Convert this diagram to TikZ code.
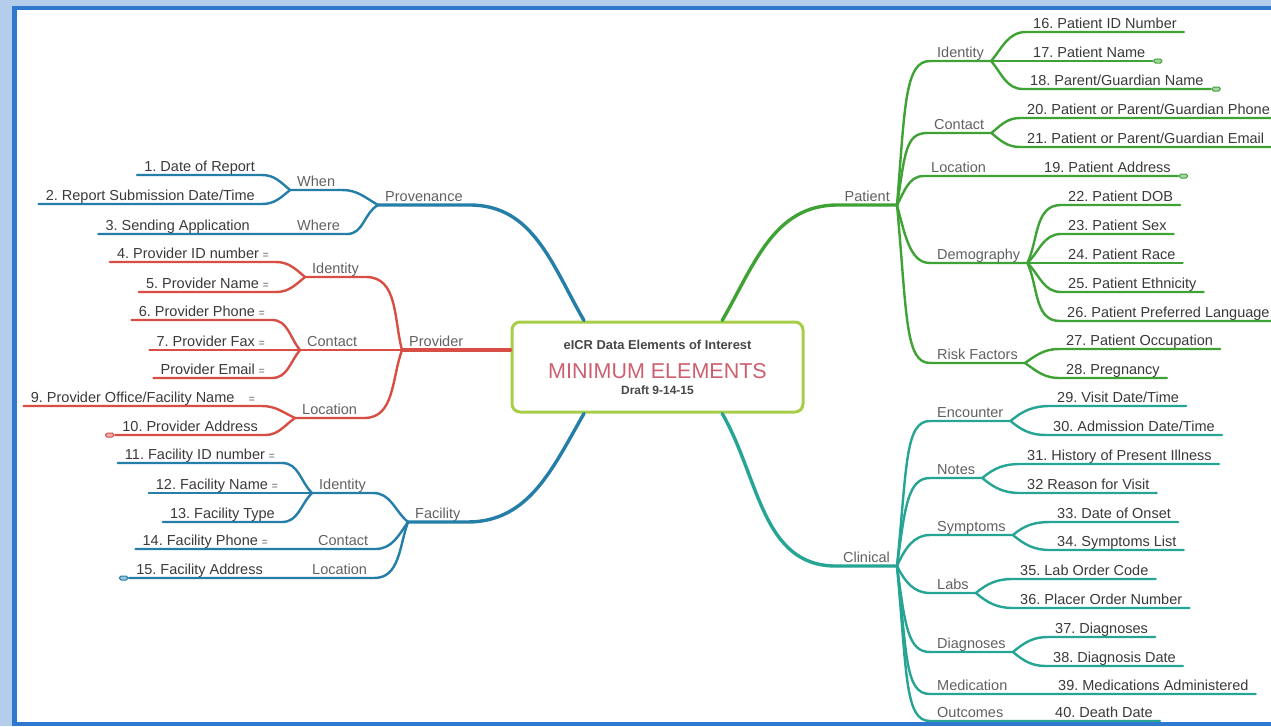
\documentclass[tikz,border=0pt]{standalone}
\usepackage{fontspec}
\setmainfont{Liberation Sans}
\usetikzlibrary{positioning, calc}
\definecolor{mapblue}{RGB}{36,126,168}
\definecolor{mapred}{RGB}{216,78,68}
\definecolor{mapgreen}{RGB}{62,162,52}
\definecolor{mapteal}{RGB}{38,164,148}
\definecolor{boxlime}{RGB}{168,206,72}
\definecolor{headpink}{RGB}{204,96,112}
\definecolor{inkgray}{RGB}{58,58,58}
\definecolor{framedark}{RGB}{47,120,208}
\definecolor{framelight}{RGB}{180,205,234}
\newcommand{\notesign}{{\color{black!45}\fontsize{10}{10}\selectfont\bfseries =}}
\frenchspacing

\begin{document}
\begin{tikzpicture}[x=1pt, y=-1pt,
    item/.style={inner xsep=7pt, inner ysep=0.5pt, text height=10.5pt,
                 text depth=3pt, font=\fontsize{14.5}{17}\selectfont,
                 text=inkgray},
    cat/.style={item, text=black!62},
    wire/.style={line width=2.4pt, line cap=round},
    trunk/.style={line width=3.4pt, line cap=round},
    core/.style={draw=boxlime, line width=3pt, rounded corners=8pt,
                 fill=white, minimum width=291pt, minimum height=90pt,
                 align=center, font=\fontsize{12.9}{15}\selectfont},
    pill/.style={draw=#1, fill=#1!45, rounded corners=1.5pt,
                 minimum width=8pt, minimum height=4pt, inner sep=0pt,
                 line width=1pt},
]
\clip (0,0) rectangle (1271,726);
\fill[white] (0,0) rectangle (1271,726);

\node[core] (core) at (657.5,367)
    {{\bfseries\color{black!72}eICR Data Elements of Interest}\\[13pt]
     {\fontsize{21.5}{21}\selectfont\color{headpink}MINIMUM ELEMENTS}\\[1pt]
     {\fontsize{12}{12}\selectfont\bfseries\color{black!72}Draft 9-14-15}};

% Provenance
\node[cat, anchor=south west] (prov) at (378,205) {Provenance};
\node[cat, anchor=south west] (when) at (290,190) {When};
\node[cat, anchor=south west] (where) at (290,234) {Where};
\node[item, anchor=south east] (p1) at (262,175) {1. Date of Report};
\node[item, anchor=south east] (p2) at (262,204) {2. Report Submission Date/Time};
\node[item, anchor=south east] (p3) at (257,234) {3. Sending Application};

\draw[trunk, mapblue] ($(core.north west)!0.25!(core.north east)$)
    to[out=120, in=0] (prov.south east) -- (prov.south west);
\draw[wire, mapblue] (prov.south west) to[out=150, in=0] (when.south east) -- (when.south west);
\draw[wire, mapblue] (prov.south west) to[out=210, in=0] (where.south east) -- (p3.south west);
\draw[wire, mapblue] (when.south west) to[out=140, in=0] (p1.south east) -- (p1.south west);
\draw[wire, mapblue] (when.south west) to[out=220, in=0] (p2.south east) -- (p2.south west);

% Provider
\node[cat, anchor=south west] (prv) at (402,350) {Provider};
\node[cat, anchor=south west] (prvid) at (305,277) {Identity};
\node[cat, anchor=south west] (prvct) at (300,350) {Contact};
\node[cat, anchor=south west] (prvlc) at (295,418) {Location};
\node[item, anchor=south east] (p4) at (276,262) {4. Provider ID number \notesign};
\node[item, anchor=south east] (p5) at (276,292) {5. Provider Name \notesign};
\node[item, anchor=south east] (p6) at (272,320) {6. Provider Phone \notesign};
\node[item, anchor=south east] (p7) at (272,350) {7. Provider Fax \notesign};
\node[item, anchor=south east] (p8) at (272,378) {Provider Email \notesign};
\node[item, anchor=south east] (p9) at (262,406) {9. Provider Office/Facility Name\quad\notesign};
\node[item, anchor=south east] (p10) at (265,435) {10. Provider Address};
\node[pill=mapred, left=1pt of p10.south west] (lk10) {};

\draw[trunk, mapred] (core.west |- prv.south) -- (prv.south west);
\draw[wire, mapred] (prv.south west) to[out=105, in=0] (prvid.south east) -- (prvid.south west);
\draw[wire, mapred] (prv.south west) -- (p7.south west);
\draw[wire, mapred] (prv.south west) to[out=250, in=0] (prvlc.south east) -- (prvlc.south west);
\draw[wire, mapred] (prvid.south west) to[out=140, in=0] (p4.south east) -- (p4.south west);
\draw[wire, mapred] (prvid.south west) to[out=220, in=0] (p5.south east) -- (p5.south west);
\draw[wire, mapred] (prvct.south west) to[out=130, in=0] (p6.south east) -- (p6.south west);
\draw[wire, mapred] (prvct.south west) to[out=230, in=0] (p8.south east) -- (p8.south west);
\draw[wire, mapred] (prvlc.south west) to[out=155, in=0] (p9.south east) -- (p9.south west);
\draw[wire, mapred] (prvlc.south west) to[out=215, in=0] (p10.south east) -- (p10.south west);

% Facility
\node[cat, anchor=south west] (fac) at (408,522) {Facility};
\node[cat, anchor=south west] (facid) at (312,493) {Identity};
\node[cat, anchor=south west] (facct) at (311,549) {Contact};
\node[cat, anchor=south west] (faclc) at (305,578) {Location};
\node[item, anchor=south east] (p11) at (282,463) {11. Facility ID number \notesign};
\node[item, anchor=south east] (p12) at (285,493) {12. Facility Name \notesign};
\node[item, anchor=south east] (p13) at (282,522) {13. Facility Type};
\node[item, anchor=south east] (p14) at (275,549) {14. Facility Phone \notesign};
\node[item, anchor=south east] (p15) at (270,578) {15. Facility Address};
\node[pill=mapblue, left=1pt of p15.south west] (lk15) {};

\draw[trunk, mapblue] ($(core.south west)!0.25!(core.south east)$)
    to[out=240, in=0] (fac.south east) -- (fac.south west);
\draw[wire, mapblue] (fac.south west) to[out=140, in=0] (facid.south east) -- (facid.south west);
\draw[wire, mapblue] (fac.south west) to[out=235, in=0] (facct.south east) -- (p14.south west);
\draw[wire, mapblue] (fac.south west) to[out=250, in=0] (faclc.south east) -- (p15.south west);
\draw[wire, mapblue] (facid.south west) to[out=135, in=0] (p11.south east) -- (p11.south west);
\draw[wire, mapblue] (facid.south west) -- (p12.south west);
\draw[wire, mapblue] (facid.south west) to[out=225, in=0] (p13.south east) -- (p13.south west);

% Patient
\node[cat, anchor=south east] (pat) at (897,205) {Patient};
\node[cat, anchor=south west] (patid) at (930,61) {Identity};
\node[cat, anchor=south west] (patct) at (927,133) {Contact};
\node[cat, anchor=south west] (patlc) at (924,176) {Location};
\node[cat, anchor=south west] (patdm) at (930,263) {Demography};
\node[cat, anchor=south west] (patrf) at (930,363) {Risk Factors};
\node[item, anchor=south west] (q16) at (1026,32) {16. Patient ID Number};
\node[item, anchor=south west] (q17) at (1026,61) {17. Patient Name};
\node[item, anchor=south west] (q18) at (1023,89) {18. Parent/Guardian Name};
\node[item, anchor=south west] (q20) at (1020,118) {20. Patient or Parent/Guardian Phone};
\node[item, anchor=south west] (q21) at (1020,147) {21. Patient or Parent/Guardian Email};
\node[item, anchor=south west] (q19) at (1037,176) {19. Patient Address};
\node[item, anchor=south west] (q22) at (1061,205) {22. Patient DOB};
\node[item, anchor=south west] (q23) at (1061,234) {23. Patient Sex};
\node[item, anchor=south west] (q24) at (1061,263) {24. Patient Race};
\node[item, anchor=south west] (q25) at (1061,292) {25. Patient Ethnicity};
\node[item, anchor=south west] (q26) at (1060,321) {26. Patient Preferred Language};
\node[item, anchor=south west] (q27) at (1059,349) {27. Patient Occupation};
\node[item, anchor=south west] (q28) at (1059,378) {28. Pregnancy};
\node[pill=mapgreen, right=1pt of q17.south east] (lk17) {};
\node[pill=mapgreen, right=1pt of q18.south east] (lk18) {};
\node[pill=mapgreen, right=1pt of q19.south east] (lk19) {};

\draw[trunk, mapgreen] ($(core.north west)!0.72!(core.north east)$)
    to[out=60, in=180] (pat.south west) -- (pat.south east);
\draw[wire, mapgreen] (pat.south east) .. controls +(8,-100) and +(-25,0) .. (patid.south west) -- (patid.south east);
\draw[wire, mapgreen] (pat.south east) .. controls +(8,-50) and +(-22,0) .. (patct.south west) -- (patct.south east);
\draw[wire, mapgreen] (pat.south east) .. controls +(8,-15) and +(-15,0) .. (patlc.south west) -- (q19.south east);
\draw[wire, mapgreen] (pat.south east) .. controls +(8,30) and +(-20,0) .. (patdm.south west) -- (patdm.south east);
\draw[wire, mapgreen] (pat.south east) .. controls +(10,110) and +(-25,0) .. (patrf.south west) -- (patrf.south east);
\draw[wire, mapgreen] (patid.south east) to[out=50, in=180] (q16.south west) -- (q16.south east);
\draw[wire, mapgreen] (patid.south east) -- (q17.south east);
\draw[wire, mapgreen] (patid.south east) to[out=-50, in=180] (q18.south west) -- (q18.south east);
\draw[wire, mapgreen] (patct.south east) to[out=40, in=180] (q20.south west) -- (q20.south east);
\draw[wire, mapgreen] (patct.south east) to[out=-40, in=180] (q21.south west) -- (q21.south east);
\draw[wire, mapgreen] (patdm.south east) to[out=65, in=180] (q22.south west) -- (q22.south east);
\draw[wire, mapgreen] (patdm.south east) to[out=45, in=180] (q23.south west) -- (q23.south east);
\draw[wire, mapgreen] (patdm.south east) -- (q24.south east);
\draw[wire, mapgreen] (patdm.south east) to[out=-45, in=180] (q25.south west) -- (q25.south east);
\draw[wire, mapgreen] (patdm.south east) to[out=-65, in=180] (q26.south west) -- (q26.south east);
\draw[wire, mapgreen] (patrf.south east) to[out=35, in=180] (q27.south west) -- (q27.south east);
\draw[wire, mapgreen] (patrf.south east) to[out=-35, in=180] (q28.south west) -- (q28.south east);

% Clinical
\node[cat, anchor=south east] (cln) at (897,566) {Clinical};
\node[cat, anchor=south west] (clen) at (930,421) {Encounter};
\node[cat, anchor=south west] (clnt) at (930,478) {Notes};
\node[cat, anchor=south west] (clsy) at (930,535) {Symptoms};
\node[cat, anchor=south west] (clla) at (930,593) {Labs};
\node[cat, anchor=south west] (cldg) at (930,652) {Diagnoses};
\node[cat, anchor=south west] (clmd) at (930,694) {Medication};
\node[cat, anchor=south west] (clout) at (930,721) {Outcomes};
\node[item, anchor=south west] (q29) at (1050,406) {29. Visit Date/Time};
\node[item, anchor=south west] (q30) at (1046,435) {30. Admission Date/Time};
\node[item, anchor=south west] (q31) at (1020,464) {31. History of Present Illness};
\node[item, anchor=south west] (q32) at (1020,493) {32 Reason for Visit};
\node[item, anchor=south west] (q33) at (1050,522) {33. Date of Onset};
\node[item, anchor=south west] (q34) at (1050,550) {34. Symptoms List};
\node[item, anchor=south west] (q35) at (1013,579) {35. Lab Order Code};
\node[item, anchor=south west] (q36) at (1013,608) {36. Placer Order Number};
\node[item, anchor=south west] (q37) at (1048,637) {37. Diagnoses};
\node[item, anchor=south west] (q38) at (1046,666) {38. Diagnosis Date};
\node[item, anchor=south west] (q39) at (1051,694) {39. Medications Administered};
\node[item, anchor=south west] (q40) at (1048,721) {40. Death Date};

\draw[trunk, mapteal] ($(core.south west)!0.72!(core.south east)$)
    to[out=-60, in=180] (cln.south west) -- (cln.south east);
\draw[wire, mapteal] (cln.south east) .. controls +(10,-100) and +(-25,0) .. (clen.south west) -- (clen.south east);
\draw[wire, mapteal] (cln.south east) .. controls +(8,-60) and +(-22,0) .. (clnt.south west) -- (clnt.south east);
\draw[wire, mapteal] (cln.south east) .. controls +(8,-18) and +(-16,0) .. (clsy.south west) -- (clsy.south east);
\draw[wire, mapteal] (cln.south east) .. controls +(8,16) and +(-16,0) .. (clla.south west) -- (clla.south east);
\draw[wire, mapteal] (cln.south east) .. controls +(8,60) and +(-22,0) .. (cldg.south west) -- (cldg.south east);
\draw[wire, mapteal] (cln.south east) .. controls +(10,90) and +(-25,0) .. (clmd.south west) -- (q39.south east);
\draw[wire, mapteal] (cln.south east) .. controls +(10,110) and +(-25,0) .. (clout.south west) -- (q40.south east);
\draw[wire, mapteal] (clen.south east) to[out=40, in=180] (q29.south west) -- (q29.south east);
\draw[wire, mapteal] (clen.south east) to[out=-40, in=180] (q30.south west) -- (q30.south east);
\draw[wire, mapteal] (clnt.south east) to[out=40, in=180] (q31.south west) -- (q31.south east);
\draw[wire, mapteal] (clnt.south east) to[out=-40, in=180] (q32.south west) -- (q32.south east);
\draw[wire, mapteal] (clsy.south east) to[out=40, in=180] (q33.south west) -- (q33.south east);
\draw[wire, mapteal] (clsy.south east) to[out=-40, in=180] (q34.south west) -- (q34.south east);
\draw[wire, mapteal] (clla.south east) to[out=40, in=180] (q35.south west) -- (q35.south east);
\draw[wire, mapteal] (clla.south east) to[out=-40, in=180] (q36.south west) -- (q36.south east);
\draw[wire, mapteal] (cldg.south east) to[out=40, in=180] (q37.south west) -- (q37.south east);
\draw[wire, mapteal] (cldg.south east) to[out=-40, in=180] (q38.south west) -- (q38.south east);

% frame
\fill[framelight] (0,0) rectangle (12,726);
\fill[framelight] (0,0) rectangle (1271,6);
\fill[framedark] (12,6) rectangle (17,726);
\fill[framedark] (12,6) rectangle (1271,10);
\fill[framedark] (12,722) rectangle (1271,726);
\end{tikzpicture}
\end{document}
